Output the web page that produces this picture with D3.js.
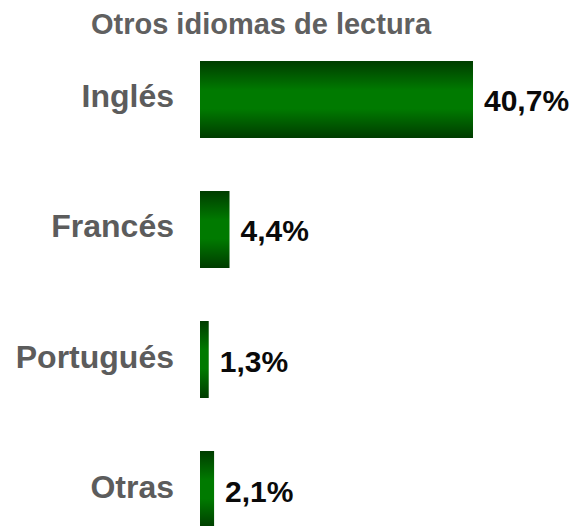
<!DOCTYPE html>
<html>
<head>
<meta charset="utf-8">
<script src="https://cdn.jsdelivr.net/npm/d3@7"></script>
<style>
  html, body { margin: 0; padding: 0; background: #ffffff; }
  svg { display: block; }
</style>
</head>
<body>
<script>
const categories = ["Inglés", "Francés", "Portugués", "Otras"];
const values = [40.7, 4.4, 1.3, 2.1];
const valueLabels = ["40,7%", "4,4%", "1,3%", "2,1%"];
const title = "Otros idiomas de lectura";

const W = 578, H = 526;
const svg = d3.select("body").append("svg").attr("width", W).attr("height", H);

const defs = svg.append("defs");
const grad = defs.append("linearGradient").attr("id", "barGrad")
  .attr("x1", 0).attr("y1", 0).attr("x2", 0).attr("y2", 1);
[["0%", "#003c00"], ["38%", "#007a00"], ["62%", "#007a00"], ["100%", "#003c00"]]
  .forEach(([o, c]) => grad.append("stop").attr("offset", o).attr("stop-color", c));

const x = d3.scaleLinear().domain([0, 40.7]).range([200, 473]);
const y = d3.scaleBand().domain(categories).range([61, 528]).paddingInner(0.4077).paddingOuter(0);

const font = "'Liberation Sans', Arial, Helvetica, sans-serif";

svg.append("text")
  .attr("x", 261).attr("y", 34)
  .attr("text-anchor", "middle")
  .attr("font-family", font).attr("font-weight", "bold").attr("font-size", 29)
  .attr("fill", "#606060")
  .text(title);

const data = categories.map((c, i) => ({ c, v: values[i], l: valueLabels[i] }));

svg.selectAll("rect.bar").data(data).join("rect")
  .attr("class", "bar")
  .attr("x", x(0))
  .attr("y", d => y(d.c))
  .attr("width", d => x(d.v) - x(0))
  .attr("height", y.bandwidth())
  .attr("fill", "url(#barGrad)");

svg.selectAll("text.cat").data(data).join("text")
  .attr("class", "cat")
  .attr("x", 174)
  .attr("y", d => y(d.c) + y.bandwidth() / 2 + 8)
  .attr("text-anchor", "end")
  .attr("font-family", font).attr("font-weight", "bold").attr("font-size", 32)
  .attr("fill", "#5c5c5c")
  .text(d => d.c);

svg.selectAll("text.val").data(data).join("text")
  .attr("class", "val")
  .attr("x", d => x(d.v) + 11)
  .attr("y", d => y(d.c) + y.bandwidth() / 2 + 12)
  .attr("text-anchor", "start")
  .attr("font-family", font).attr("font-weight", "bold").attr("font-size", 30)
  .attr("fill", "#0a0a0a")
  .text(d => d.l);
</script>
</body>
</html>
